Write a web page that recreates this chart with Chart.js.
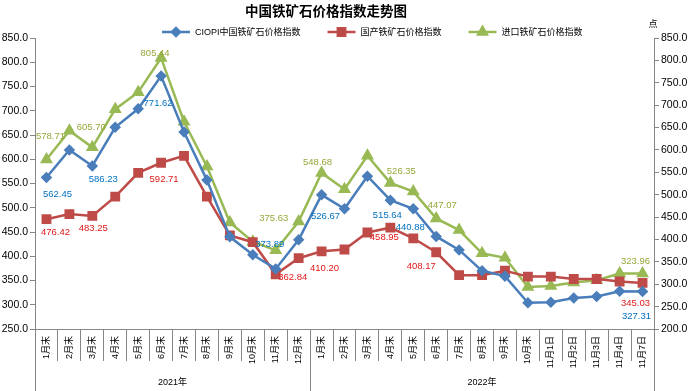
<!DOCTYPE html>
<html>
<head>
<meta charset="utf-8">
<script src="https://cdn.jsdelivr.net/npm/chart.js@4/dist/chart.umd.min.js"></script>
<style>
  html, body { margin: 0; padding: 0; background: #fff; }
  #wrap { width: 689px; height: 391px; }
</style>
</head>
<body>
<div id="wrap"><canvas id="ironChart" width="689" height="391"></canvas></div>
<script>
// Categories and groups
let months = ["1月末", "2月末", "3月末", "4月末", "5月末", "6月末", "7月末", "8月末", "9月末", "10月末", "11月末", "12月末",
  "1月末", "2月末", "3月末", "4月末", "5月末", "6月末", "7月末", "8月末", "9月末", "10月末",
  "11月1日", "11月2日", "11月3日", "11月4日", "11月7日"];
let years = ["2021年", "2022年"];
let yearSizes = [12, 15];

// Series values
let ciopi = [562.45, 619, 586.23, 666, 704, 771.62, 656, 557, 440, 403, 373.89, 434,
  526.67, 498, 565, 515.64, 498, 440.88, 413, 370, 359, 304, 305, 314, 317, 328, 327.31];
let domestic = [476.42, 487, 483.25, 523, 572, 592.71, 607, 523, 443, 429, 362.84, 396,
  410.20, 414, 449, 458.95, 437, 408.17, 361, 361, 370, 358, 358, 353, 353, 348, 345.03];
let imported = [578.71, 643, 605.70, 691, 729, 805.44, 663, 563, 438, 395, 375.63, 440,
  548.68, 512, 587, 526.35, 507, 447.07, 421, 369, 359, 294, 296, 304, 309, 324, 323.96];

// Points that carry a value label
let labelIdx = [0, 2, 5, 10, 12, 15, 17, 26];

// label offsets (dx, dy) from the point, per series
let labelOffsets = [
  [[11, 17], [11, 13], [-3, 27], [-6, -25], [4, 22], [-3, 15], [-26, -9], [-6, 25]],
  [[9, 13], [1, 13], [3, 17], [17, 3], [3, 17], [-6, 10], [-15, 14], [-7, 20]],
  [[4, -23], [-1, -20], [-6, -5], [-2, -32], [-4, -11], [11, -12], [6, -13], [-7, -12]]
];
let labelColors = ["#0070C0", "#E01818", "#98A638"];

let axisGray = "#868686";
let numFont = "'Liberation Sans', Arial, sans-serif";
let cjkFont = "'Liberation Sans', 'Noto Sans CJK SC', sans-serif";

let overlay = {
  id: "overlay",
  afterDatasetsDraw(chart) {
    let ctx = chart.ctx;
    ctx.save();
    ctx.font = "9.5px " + numFont;
    ctx.textAlign = "center";
    ctx.textBaseline = "middle";
    chart.data.datasets.forEach((ds, d) => {
      let meta = chart.getDatasetMeta(d);
      labelIdx.forEach((i, k) => {
        let pt = meta.data[i];
        let off = labelOffsets[d][k];
        ctx.fillStyle = labelColors[d];
        ctx.fillText(ds.data[i].toFixed(2), pt.x + off[0], pt.y + off[1]);
      });
    });
    ctx.restore();
  },
  afterDraw(chart) {
    let ctx = chart.ctx;
    let x = chart.scales.x;
    let area = chart.chartArea;
    ctx.save();

    // title
    ctx.fillStyle = "#000";
    ctx.font = "bold 13.5px 'Noto Sans CJK SC', sans-serif";
    ctx.textAlign = "center";
    ctx.textBaseline = "middle";
    ctx.fillText("中国铁矿石价格指数走势图", 326, 11);

    // unit
    ctx.font = "9px 'Noto Sans CJK SC', sans-serif";
    ctx.fillText("点", 653, 24);

    // legend
    let lx = 162;
    let ly = 32;
    ctx.textAlign = "left";
    chart.data.datasets.forEach((ds) => {
      ctx.strokeStyle = ds.borderColor;
      ctx.lineWidth = 2.5;
      ctx.beginPath();
      ctx.moveTo(lx, ly);
      ctx.lineTo(lx + 28, ly);
      ctx.stroke();
      ctx.fillStyle = ds.pointBackgroundColor;
      ctx.strokeStyle = ds.borderColor;
      Chart.helpers.drawPoint(ctx, {
        pointStyle: ds.pointStyle,
        radius: ds.pointRadius,
        rotation: 0,
        borderWidth: 1
      }, lx + 14, ly);
      ctx.fillStyle = "#000";
      ctx.font = "9px " + cjkFont;
      ctx.fillText(ds.label, lx + 33, ly + 1);
      lx += 33 + ctx.measureText(ds.label).width + 27;
    });

    // year group dividers and labels
    let step = x.getPixelForValue(1) - x.getPixelForValue(0);
    ctx.strokeStyle = axisGray;
    ctx.lineWidth = 1;
    ctx.fillStyle = "#000";
    ctx.font = "9px " + cjkFont;
    ctx.textAlign = "center";
    let start = 0;
    let edges = [area.left];
    years.forEach((y, g) => {
      let end = start + yearSizes[g] - 1;
      let right = x.getPixelForValue(end) + step / 2;
      edges.push(right);
      let left = x.getPixelForValue(start) - step / 2;
      ctx.fillText(y, (left + right) / 2, 383);
      start = end + 1;
    });
    edges.forEach((e) => {
      let px = Math.round(e) + 0.5;
      ctx.beginPath();
      ctx.moveTo(px, area.bottom);
      ctx.lineTo(px, 391);
      ctx.stroke();
    });
    ctx.restore();
  }
};

let ctx = document.getElementById("ironChart").getContext("2d");
let ironChart = new Chart(ctx, {
  type: "line",
  data: {
    labels: months,
    datasets: [
      {
        label: "CIOPI中国铁矿石价格指数",
        data: ciopi,
        yAxisID: "y",
        borderColor: "#4A7EBB",
        backgroundColor: "#4A7EBB",
        pointBackgroundColor: "#4A7EBB",
        pointStyle: "rectRot",
        pointRadius: 4,
        borderWidth: 2.5,
        tension: 0,
      },
      {
        label: "国产铁矿石价格指数",
        data: domestic,
        yAxisID: "y",
        borderColor: "#BE4B48",
        backgroundColor: "#BE4B48",
        pointBackgroundColor: "#BE4B48",
        pointStyle: "rect",
        pointRadius: 5.2,
        borderWidth: 2.5,
        tension: 0,
      },
      {
        label: "进口铁矿石价格指数",
        data: imported,
        yAxisID: "y2",
        borderColor: "#98B954",
        backgroundColor: "#98B954",
        pointBackgroundColor: "#98B954",
        pointStyle: "triangle",
        pointRadius: 5,
        borderWidth: 2.5,
        tension: 0,
      },
    ],
  },
  options: {
    responsive: false,
    animation: false,
    layout: { padding: { top: 38, left: 0, right: 0, bottom: 0 } },
    plugins: {
      legend: { display: false },
      title: { display: false },
      tooltip: { enabled: false },
    },
    scales: {
      x: {
        type: "category",
        offset: true,
        grid: {
          offset: true,
          drawOnChartArea: false,
          color: axisGray,
          tickLength: 32,
        },
        border: { color: axisGray },
        ticks: {
          autoSkip: false,
          minRotation: 90,
          maxRotation: 90,
          padding: -25,
          color: "#000",
          font: { size: 9, family: cjkFont },
        },
        afterFit: (scale) => { scale.height = 62; },
      },
      y: {
        position: "left",
        min: 250,
        max: 850,
        grid: { drawOnChartArea: false, color: axisGray, tickLength: 5 },
        border: { color: axisGray },
        ticks: {
          stepSize: 50,
          padding: 2,
          color: "#000",
          font: { size: 10.5, family: numFont },
          callback: (v) => v.toFixed(1),
        },
        afterFit: (scale) => { scale.width = 35; },
      },
      y2: {
        position: "right",
        min: 200,
        max: 850,
        grid: { drawOnChartArea: false, color: axisGray, tickLength: 5 },
        border: { color: axisGray },
        ticks: {
          stepSize: 50,
          padding: 2,
          color: "#000",
          font: { size: 10.5, family: numFont },
          callback: (v) => v.toFixed(1),
        },
        afterFit: (scale) => { scale.width = 35; },
      },
    },
  },
  plugins: [overlay],
});
</script>
</body>
</html>
